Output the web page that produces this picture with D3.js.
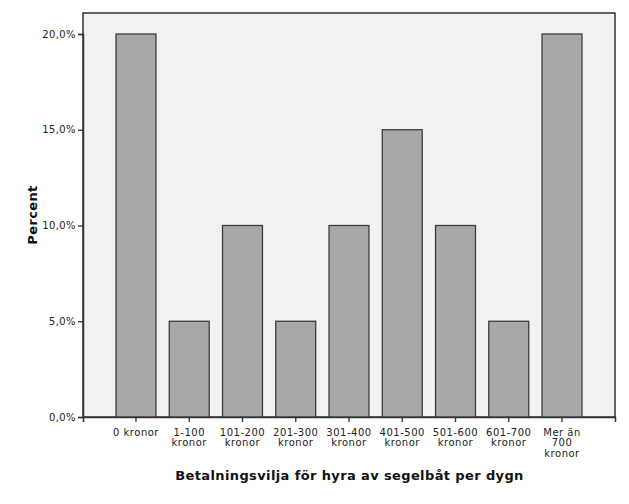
<!DOCTYPE html>
<html>
<head>
<meta charset="utf-8">
<script src="https://cdn.jsdelivr.net/npm/d3@7"></script>
<style>
  body { margin: 0; background: #fff; }
  text { font-family: "DejaVu Sans", sans-serif; }
</style>
</head>
<body>
<svg width="629" height="504"></svg>
<script>
// kategorier och procentvärden
var categories = [
  ["0 kronor"], ["1-100", "kronor"], ["101-200", "kronor"], ["201-300", "kronor"],
  ["301-400", "kronor"], ["401-500", "kronor"], ["501-600", "kronor"],
  ["601-700", "kronor"], ["Mer än", "700", "kronor"]
];
var percents = [20, 5, 10, 5, 10, 15, 10, 5, 20];
var yTicks = [0, 5, 10, 15, 20];

var svg = d3.select('svg');

// OBS: "top" är reserverat i window, därför plotTop osv.
var plotLeft = 83, plotRight = 615, plotTop = 13, plotBottom = 417;

var x = d3.scaleBand()
  .domain(d3.range(categories.length))
  .range([plotLeft, plotRight])
  .paddingInner(0.25)
  .paddingOuter(0.62);

var y = d3.scaleLinear()
  .domain([0, 20])
  .range([plotBottom, 34]);

// bakgrund
svg.append('rect')
  .attr('x', plotLeft).attr('y', plotTop)
  .attr('width', plotRight - plotLeft).attr('height', plotBottom - plotTop)
  .attr('fill', '#f2f2f2')
  .attr('stroke', '#000')
  .attr('stroke-width', 1.2);

// staplar
svg.selectAll('rect.bar')
  .data(percents)
  .enter().append('rect')
  .attr('class', 'bar')
  .attr('x', function(d, i){ return x(i); })
  .attr('width', x.bandwidth())
  .attr('y', function(d){ return y(d); })
  .attr('height', function(d){ return y(0) - y(d); })
  .attr('fill', '#a8a8a8')
  .attr('stroke', '#3c3c3c')
  .attr('stroke-width', 1.3);

// y-axel
var yAxis = svg.append('g')
  .attr('transform', 'translate(' + plotLeft + ',0)')
  .call(d3.axisLeft(y)
    .tickValues(yTicks)
    .tickSize(5)
    .tickFormat(function(d){ return d.toFixed(1).replace('.', ',') + '%'; }));
yAxis.select('.domain').attr('stroke', '#333').attr('stroke-width', 1.5);
yAxis.selectAll('.tick line').attr('stroke', '#333').attr('stroke-width', 1.3);
yAxis.selectAll('.tick text')
  .attr('x', -7)
  .attr('font-size', '10px')
  .attr('letter-spacing', '0.4px')
  .attr('font-family', 'DejaVu Sans, sans-serif')
  .attr('fill', '#222');

// x-axel
var xAxis = svg.append('g')
  .attr('transform', 'translate(0,' + plotBottom + ')')
  .call(d3.axisBottom(x).tickSize(5).tickFormat(''));
xAxis.select('.domain').attr('stroke', '#333').attr('stroke-width', 1.5);
xAxis.selectAll('.tick line').attr('stroke', '#333').attr('stroke-width', 1.3);

xAxis.selectAll('.tick').each(function(d){
  var t = d3.select(this).append('text')
    .attr('text-anchor', 'middle')
    .attr('font-size', '10px')
    .attr('letter-spacing', '0.5px')
    .attr('fill', '#222')
    .attr('y', 18.5);
  categories[d].forEach(function(line, k){
    t.append('tspan').attr('x', 0).attr('dy', k === 0 ? 0 : 10.8).text(line);
  });
});

// axeltitlar
svg.append('text')
  .attr('x', (plotLeft + plotRight) / 2 + 0.5)
  .attr('y', 480)
  .attr('text-anchor', 'middle')
  .attr('font-size', '13px')
  .attr('font-weight', 'bold')
  .attr('letter-spacing', '0.38px')
  .attr('fill', '#111')
  .text('Betalningsvilja för hyra av segelbåt per dygn');

svg.append('text')
  .attr('transform', 'translate(37,' + ((plotTop + plotBottom) / 2) + ') rotate(-90)')
  .attr('text-anchor', 'middle')
  .attr('font-size', '13px')
  .attr('font-weight', 'bold')
  .attr('letter-spacing', '0.38px')
  .attr('fill', '#111')
  .text('Percent');
</script>
</body>
</html>
